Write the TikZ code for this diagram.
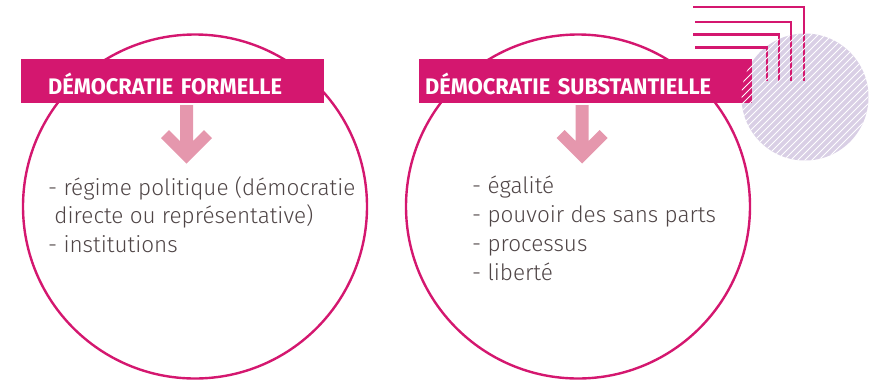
\documentclass[tikz,border=0pt]{standalone}
\usepackage{fontspec}
\setmainfont{Fira Sans}[UprightFont=* Light, BoldFont=* Bold]
\newfontfamily\headfont{Fira Sans}[FakeStretch=0.97]
\usetikzlibrary{positioning}
\definecolor{demmagenta}{HTML}{D4176F}
\definecolor{dempink}{HTML}{E597AD}
\definecolor{demlavender}{HTML}{D9CFE5}
\definecolor{demgray}{HTML}{4F4546}

\begin{document}
\begin{tikzpicture}[x=1pt,y=-1pt,
    bigcircle/.style={circle,draw=demmagenta,line width=2.4pt,minimum size=344pt,inner sep=0},
    banner/.style={fill=demmagenta,text=white,inner ysep=0,text height=35pt,text depth=9pt,align=left,font=\headfont\bfseries\headfontsize},
    bodytext/.style={text=demgray,align=left,inner sep=0,font=\bodyfontsize}]
    \pgfmathsetmacro{\decox}{805}
    \pgfmathsetmacro{\decoy}{97}
    \pgfmathsetmacro{\decoradius}{63.5}
    \providecommand{\headfontsize}{\fontsize{22.5}{24}\selectfont}
    \providecommand{\bodyfontsize}{\fontsize{22.5}{28.7}\selectfont}
    \useasboundingbox (0,0) rectangle (876,381);
    % decoration behind the right banner
    \fill[demlavender] (\decox,\decoy) circle (\decoradius);
    \node[bigcircle] (formelCircle) at (195,206.5) {};
    \node[bigcircle] (substCircle) at (578,206.5) {};
    \node[banner,inner xsep=27pt,text width=249pt,anchor=north west] (formelle) at (21,59) {DÉMOCRATIE FORMELLE};
    \node[banner,inner xsep=6pt,text width=321pt,anchor=north west] (substantielle) at (419,59) {DÉMOCRATIE SUBSTANTIELLE};
    \foreach \ax in {186.5,582}
        \fill[dempink] (\ax-6.5,105) -- (\ax+6.5,105) -- (\ax+6.5,141) -- (\ax+17.5,130) -- (\ax+25.5,138)
            -- (\ax,163.5) -- (\ax-25.5,138) -- (\ax-17.5,130) -- (\ax-6.5,141) -- cycle;
    % base anchor sits on the last line
    \node[bodytext,anchor=base west] (formelText) at (48,252.5)
        {- régime politique (démocratie\\\ directe ou représentative)\\- institutions};
    \node[bodytext,anchor=base west] (substText) at (472,280)
        {- égalité\\- pouvoir des sans parts\\- processus\\- liberté};
    \foreach \yy/\xx/\xs in {7/804/693,22/791/695,34.5/779/693,47.5/767/695}
        \draw[demmagenta,line width=2.4pt] (\xs,\yy) -- (\xx,\yy) -- (\xx,81);
    \begin{scope}
        \clip (\decox,\decoy) circle (\decoradius);
        \foreach \k in {-20,...,20}
            \draw[white,line width=0.9pt] (\decox+7*\k-80,\decoy+80) -- (\decox+7*\k+80,\decoy-80);
    \end{scope}
\end{tikzpicture}
\end{document}
